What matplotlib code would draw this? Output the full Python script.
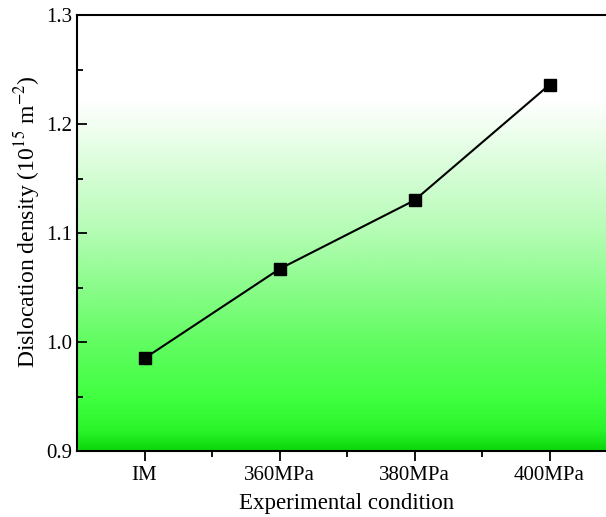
import matplotlib
matplotlib.use('Agg')
import matplotlib.pyplot as plt
import numpy as np
from matplotlib.colors import LinearSegmentedColormap

conditions = ['IM', '360MPa', '380MPa', '400MPa']
density = [0.985, 1.067, 1.130, 1.236]

plt.rcParams['font.family'] = ['Liberation Serif', 'DejaVu Serif']
plt.rcParams['mathtext.fontset'] = 'stix'

fig = plt.figure(figsize=(6.06, 5.17), dpi=100)
ax = fig.add_axes([77/606, 66/517, 540/606, 436/517])

x = np.arange(1, len(conditions) + 1)

# green background gradient, white at the top
cmap = LinearSegmentedColormap.from_list('g', [(0.0, '#0ad80a'), (0.06, '#2cf52c'),
                                              (0.15, '#40ff40'), (0.31, '#62fc62'),
                                              (0.64, '#b8fcb8'), (1.0, '#ffffff')])
grad = np.linspace(0, 1, 256).reshape(-1, 1)
ax.imshow(grad, cmap=cmap, origin='lower', aspect='auto',
          extent=[0.5, 4.5, 0.9, 1.222], zorder=0)

ax.plot(x, density, color='black', lw=1.5, marker='s', ms=9,
        markerfacecolor='black', markeredgecolor='black', zorder=3)

ax.set_xlim(0.5, 4.5)
ax.set_ylim(0.9, 1.3)
ax.set_xticks(x)
ax.set_xticklabels(conditions)
ax.set_xticks(x[:-1] + 0.5, minor=True)
ax.set_yticks([0.9, 1.0, 1.1, 1.2, 1.3])
ax.set_yticks([0.95, 1.05, 1.15, 1.25], minor=True)
ax.tick_params(which='both', labelsize=15, width=1.3, top=False, right=False)
ax.tick_params(axis='y', which='both', direction='in')
ax.tick_params(axis='x', which='both', direction='out')
ax.tick_params(which='major', length=7)
ax.tick_params(which='minor', length=4)
for s in ax.spines.values():
    s.set_linewidth(1.5)
ax.spines['right'].set_visible(False)

ax.set_xlabel('Experimental condition', fontsize=16.5, labelpad=6)
ax.set_ylabel(r'Dislocation density (10$^{15}$ m$^{-2}$)', fontsize=17)
ax.yaxis.set_label_coords(-0.064, 0.525)

fig.savefig('out.png', dpi=100)
